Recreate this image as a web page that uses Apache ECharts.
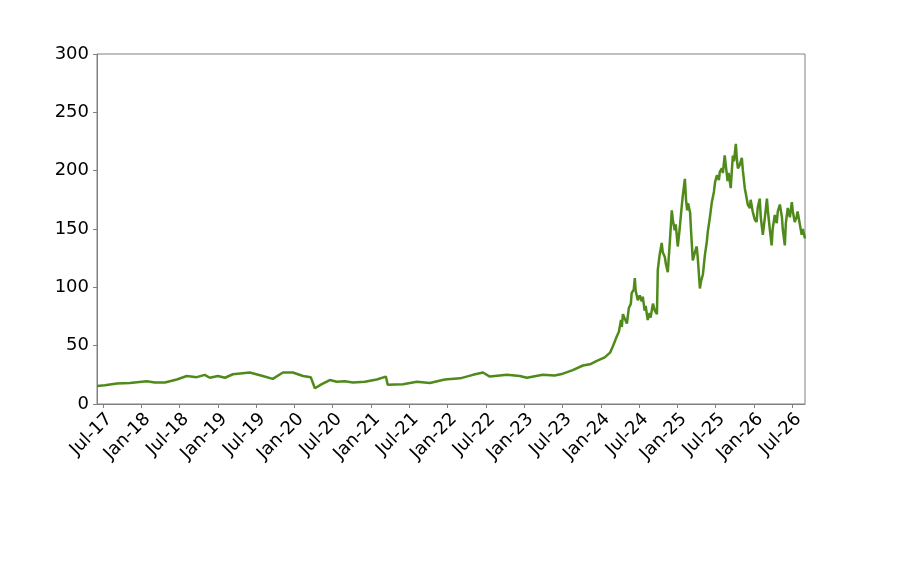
<!DOCTYPE html>
<html>
<head>
<meta charset="utf-8">
<script src="https://cdn.jsdelivr.net/npm/echarts@6/dist/echarts.min.js"></script>
<style>
  html, body { margin: 0; padding: 0; background: #fff; }
  #chart { width: 902px; height: 574px; }
</style>
</head>
<body>
<div id="chart"></div>
<script>
// dates and prices
const dates = [
  '2017-06-03', '2017-07-10', '2017-09-06', '2017-11-07', '2018-01-27', '2018-03-05',
  '2018-04-22', '2018-06-18', '2018-08-05', '2018-09-22', '2018-10-30', '2018-11-23',
  '2019-01-01', '2019-02-04', '2019-03-12', '2019-06-01', '2019-08-02', '2019-09-19',
  '2019-11-07', '2019-12-24', '2020-02-11', '2020-03-18', '2020-04-07', '2020-05-10',
  '2020-06-17', '2020-07-21', '2020-08-28', '2020-10-06', '2020-12-02', '2021-01-29',
  '2021-03-11', '2021-03-20', '2021-06-01', '2021-08-07', '2021-10-08', '2021-12-18',
  '2022-02-28', '2022-04-30', '2022-06-17', '2022-07-20', '2022-10-10', '2022-12-11',
  '2023-01-14', '2023-03-29', '2023-05-25', '2023-07-03', '2023-08-20', '2023-10-07',
  '2023-11-10', '2023-12-13', '2024-01-20', '2024-02-14', '2024-02-28',
  '2024-03-17', '2024-03-27', '2024-04-06', '2024-04-10', '2024-04-15', '2024-04-24',
  '2024-05-04', '2024-05-13', '2024-05-23', '2024-05-27', '2024-06-06', '2024-06-11',
  '2024-06-15', '2024-06-25', '2024-07-04', '2024-07-14', '2024-07-19', '2024-07-28',
  '2024-08-02', '2024-08-12', '2024-08-21', '2024-08-26', '2024-09-06', '2024-09-15',
  '2024-09-25', '2024-09-29', '2024-10-08', '2024-10-18', '2024-10-23', '2024-11-02',
  '2024-11-07', '2024-11-16', '2024-11-26', '2024-12-05', '2024-12-10', '2024-12-19',
  '2024-12-24', '2025-01-03', '2025-01-12', '2025-01-22', '2025-01-27', '2025-02-06',
  '2025-02-11', '2025-02-16', '2025-02-20', '2025-03-01', '2025-03-05', '2025-03-14',
  '2025-03-24', '2025-04-02', '2025-04-07', '2025-04-17', '2025-04-22', '2025-05-01',
  '2025-05-11', '2025-05-20', '2025-05-25', '2025-06-04', '2025-06-13', '2025-06-23',
  '2025-06-28', '2025-07-07', '2025-07-17', '2025-07-21', '2025-07-31', '2025-08-05',
  '2025-08-14', '2025-08-19', '2025-08-28', '2025-09-02', '2025-09-12', '2025-09-17',
  '2025-09-22', '2025-09-27', '2025-10-06', '2025-10-11', '2025-10-16', '2025-10-25',
  '2025-11-04', '2025-11-09', '2025-11-18', '2025-11-23', '2025-12-02', '2025-12-12',
  '2025-12-16', '2025-12-26', '2026-01-05', '2026-01-14', '2026-01-19', '2026-01-29',
  '2026-02-03', '2026-02-12', '2026-02-21', '2026-03-02', '2026-03-07', '2026-03-16',
  '2026-03-25', '2026-03-30', '2026-04-09', '2026-04-18', '2026-04-23', '2026-05-03',
  '2026-05-13', '2026-05-17', '2026-05-27', '2026-06-01', '2026-06-10', '2026-06-20',
  '2026-06-29', '2026-07-04', '2026-07-13', '2026-07-22', '2026-07-27', '2026-08-06',
  '2026-08-16', '2026-08-21', '2026-09-01'
];
const prices = [
  15.5, 16, 17.5, 18, 19.5, 18.5,
  18.5, 21, 24, 23, 25, 22.5,
  24, 22.5, 25.5, 27, 24, 21.5,
  27, 27, 24, 23, 13.5, 17,
  20.5, 19, 19.5, 18.5, 19, 21,
  23.5, 16.5, 17, 19, 18, 21,
  22, 25, 27, 23.5, 25, 24,
  22.5, 25, 24.5, 26, 29, 33,
  34, 37, 40, 44, 50,
  58, 62, 72, 66, 77, 73,
  69, 82, 86, 95, 98, 108,
  97, 89, 93, 88, 92, 80,
  84, 72, 78, 74, 86, 80,
  77, 115, 128, 138, 130, 126,
  120, 113, 140, 166, 158, 149,
  154, 135, 150, 169, 178, 193,
  175, 166, 172, 164, 150, 123,
  130, 135, 125, 99, 105, 111,
  128, 139, 148, 160, 173, 182,
  190, 196, 192, 199, 202, 198,
  213, 205, 191, 198, 185, 200,
  213, 208, 223, 210, 202, 205,
  211, 200, 185, 180, 171, 168,
  175, 165, 158, 156, 168, 176,
  160, 145, 160, 176, 165, 150,
  136, 150, 162, 155, 165, 171,
  160, 150, 136, 155, 168, 160,
  173, 165, 156, 160, 165, 155,
  145, 150, 142
];
// tick positions, in months since Jan-2017 (Jul-17 ... Jul-26)
const tickMonths = [6, 12, 18, 24, 30, 36, 42, 48, 54, 60, 66, 72, 78, 84, 90, 96, 102, 108, 114];
const monthNames = ['Jan', 'Feb', 'Mar', 'Apr', 'May', 'Jun', 'Jul', 'Aug', 'Sep', 'Oct', 'Nov', 'Dec'];

// date -> months since 2017-01-01
function toMonth(s) {
  const [y, m, d] = s.split('-').map(Number);
  const days = new Date(y, m, 0).getDate();
  return (y - 2017) * 12 + (m - 1) + (d - 1) / days;
}

const seriesData = dates.map((d, i) => [toMonth(d), prices[i]]);

const chart = echarts.init(document.getElementById('chart'));
const fontFamily = 'DejaVu Sans';

chart.setOption({
  animation: false,
  grid: {
    left: 97, right: 97, top: 54, bottom: 170,
    show: true, borderColor: '#808080', borderWidth: 1, backgroundColor: 'transparent'
  },
  xAxis: {
    type: 'value',
    min: 5.06,
    max: 116,
    axisLine: { show: true, lineStyle: { color: '#808080', width: 1 } },
    axisTick: { show: true, length: 4, lineStyle: { color: '#808080' }, customValues: tickMonths },
    splitLine: { show: false },
    axisLabel: {
      customValues: tickMonths,
      rotate: 45,
      align: 'right',
      verticalAlign: 'top',
      margin: 6,
      color: '#000',
      fontSize: 18,
      fontFamily: fontFamily,
      formatter: v => {
        const m = Math.round(v);
        return monthNames[m % 12] + '-' + (17 + Math.floor(m / 12));
      }
    }
  },
  yAxis: {
    type: 'value',
    min: 0,
    max: 300,
    interval: 50,
    axisLine: { show: true, lineStyle: { color: '#808080', width: 1 } },
    axisTick: { show: true, length: 4, lineStyle: { color: '#808080' } },
    splitLine: { show: false },
    axisLabel: { color: '#000', fontSize: 18, fontFamily: fontFamily, margin: 8 }
  },
  series: [
    {
      type: 'line',
      data: seriesData,
      showSymbol: false,
      lineStyle: { color: '#4f8a1b', width: 2.5 },
      itemStyle: { color: '#4f8a1b' }
    }
  ]
});
</script>
</body>
</html>
